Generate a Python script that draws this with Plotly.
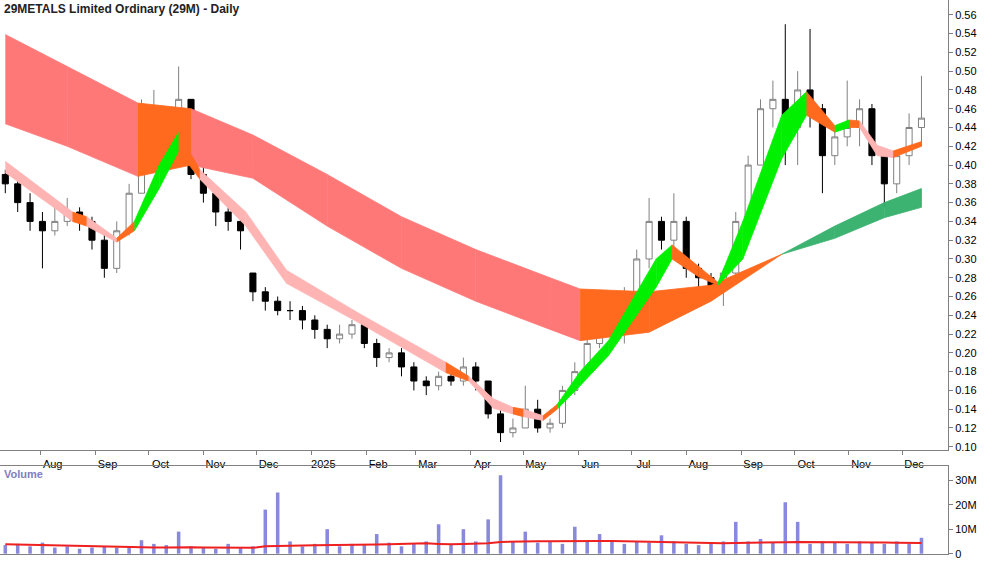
import plotly.graph_objects as go
import pandas as pd

# weekly candles (Fridays, Jul 2024 - Dec 2025)
weeks = pd.date_range("2024-07-12", periods=75, freq="7D")
opens = [0.39, 0.38, 0.36, 0.34, 0.33, 0.34, 0.35, 0.34, 0.32, 0.29,
         0.33, 0.37, 0.44, 0.44, 0.43, 0.47, 0.39, 0.37, 0.35, 0.34,
         0.285, 0.265, 0.255, 0.245, 0.245, 0.235, 0.225, 0.215, 0.22, 0.23,
         0.21, 0.195, 0.20, 0.185, 0.17, 0.165, 0.175, 0.17, 0.185, 0.17,
         0.135, 0.115, 0.12, 0.14, 0.12, 0.125, 0.16, 0.18, 0.21, 0.235,
         0.22, 0.25, 0.30, 0.34, 0.32, 0.34, 0.29, 0.28, 0.27, 0.285,
         0.34, 0.40, 0.46, 0.47, 0.44, 0.48, 0.46, 0.41, 0.43, 0.44,
         0.46, 0.41, 0.38, 0.41, 0.44]
highs = [0.395, 0.385, 0.37, 0.35, 0.36, 0.365, 0.355, 0.345, 0.33, 0.34,
         0.38, 0.47, 0.48, 0.455, 0.505, 0.47, 0.40, 0.37, 0.355, 0.345,
         0.285, 0.27, 0.26, 0.255, 0.25, 0.24, 0.23, 0.23, 0.235, 0.235,
         0.215, 0.205, 0.205, 0.19, 0.175, 0.18, 0.18, 0.195, 0.19, 0.17,
         0.14, 0.13, 0.165, 0.15, 0.13, 0.165, 0.19, 0.22, 0.245, 0.24,
         0.27, 0.31, 0.365, 0.345, 0.37, 0.345, 0.295, 0.285, 0.29, 0.35,
         0.41, 0.47, 0.49, 0.55, 0.50, 0.545, 0.465, 0.44, 0.49, 0.47,
         0.465, 0.415, 0.415, 0.455, 0.495]
lows = [0.37, 0.35, 0.33, 0.29, 0.325, 0.335, 0.33, 0.31, 0.28, 0.285,
        0.325, 0.37, 0.42, 0.415, 0.42, 0.385, 0.36, 0.335, 0.33, 0.31,
        0.255, 0.245, 0.24, 0.235, 0.225, 0.215, 0.205, 0.21, 0.215, 0.205,
        0.185, 0.19, 0.175, 0.16, 0.155, 0.16, 0.165, 0.165, 0.16, 0.13,
        0.105, 0.11, 0.12, 0.115, 0.115, 0.12, 0.155, 0.175, 0.205, 0.21,
        0.21, 0.24, 0.29, 0.31, 0.31, 0.28, 0.27, 0.26, 0.25, 0.28,
        0.33, 0.40, 0.44, 0.40, 0.40, 0.44, 0.37, 0.40, 0.42, 0.42,
        0.40, 0.355, 0.37, 0.40, 0.42]
closes = [0.38, 0.36, 0.34, 0.33, 0.34, 0.35, 0.34, 0.32, 0.29, 0.33,
          0.37, 0.44, 0.44, 0.43, 0.47, 0.39, 0.37, 0.35, 0.34, 0.33,
          0.265, 0.255, 0.245, 0.245, 0.235, 0.225, 0.215, 0.22, 0.23, 0.21,
          0.195, 0.20, 0.185, 0.17, 0.165, 0.175, 0.17, 0.185, 0.17, 0.135,
          0.115, 0.12, 0.14, 0.12, 0.125, 0.16, 0.18, 0.21, 0.235, 0.22,
          0.25, 0.30, 0.34, 0.32, 0.34, 0.29, 0.28, 0.27, 0.285, 0.34,
          0.40, 0.46, 0.47, 0.44, 0.48, 0.46, 0.41, 0.43, 0.44, 0.46,
          0.41, 0.38, 0.41, 0.44, 0.45]

volume = [3.5, 4.0, 3.0, 4.5, 2.5, 3.0, 2.0, 2.5, 3.0, 2.5,
          3.0, 5.5, 4.0, 3.5, 9.0, 3.0, 2.5, 2.0, 4.0, 2.5,
          3.0, 18.0, 25.0, 5.0, 3.0, 4.0, 10.0, 3.0, 4.0, 3.5,
          8.0, 4.5, 3.0, 4.0, 5.0, 12.0, 4.0, 10.0, 5.0, 14.0,
          32.0, 5.0, 9.0, 4.5, 5.0, 4.0, 11.0, 5.0, 8.0, 5.0,
          4.0, 5.0, 4.5, 7.5, 5.0, 4.0, 3.5, 4.0, 5.0, 13.0,
          5.0, 6.0, 4.5, 21.0, 13.0, 4.0, 5.0, 4.5, 4.0, 5.0,
          4.5, 4.0, 5.0, 4.0, 6.5]
volume_ma = [3.8, 3.7, 3.6, 3.5, 3.4, 3.2, 3.0, 2.8, 2.7, 2.6,
             2.5, 2.5, 2.5, 2.5, 2.6, 2.6, 2.5, 2.5, 2.4, 2.4,
             2.4, 3.0, 3.2, 3.3, 3.3, 3.4, 3.4, 3.5, 3.5, 3.6,
             3.7, 3.8, 4.0, 4.2, 4.3, 4.0, 3.8, 4.0, 4.1, 4.3,
             4.8, 5.0, 5.0, 5.1, 5.1, 5.2, 5.3, 5.3, 5.2, 5.2,
             5.1, 5.0, 5.0, 4.8, 4.6, 4.5, 4.4, 4.3, 4.3, 4.4,
             4.4, 4.5, 4.6, 4.7, 4.8, 4.8, 4.9, 4.9, 4.8, 4.8,
             4.7, 4.6, 4.5, 4.5, 4.4]

# long-term ribbon
long_dates = ["2024-07-12", "2024-08-16", "2024-09-25", "2024-10-25", "2024-11-29",
              "2025-01-10", "2025-02-21", "2025-04-04", "2025-05-16", "2025-06-02",
              "2025-07-11", "2025-08-15", "2025-09-24", "2025-10-24", "2025-11-21",
              "2025-12-12"]
long_up = [0.539, 0.505, 0.466, 0.46, 0.432, 0.39, 0.345, 0.31, 0.28, 0.268,
           0.265, 0.272, 0.305, 0.335, 0.36, 0.375]
long_lo = [0.444, 0.42, 0.388, 0.40, 0.386, 0.335, 0.29, 0.255, 0.225, 0.213,
           0.222, 0.255, 0.305, 0.322, 0.344, 0.355]
long_state = ["r", "r", "o", "r", "r", "r", "r", "r", "r", "o", "o", "o", "g", "g", "g"]

# short-term ribbon
short_dates = ["2024-07-12", "2024-08-12", "2024-08-19", "2024-08-27", "2024-09-13",
               "2024-09-23", "2024-10-07", "2024-10-18", "2024-10-30", "2024-11-25",
               "2024-12-18", "2025-01-28", "2025-03-18", "2025-03-31", "2025-04-14",
               "2025-04-25", "2025-05-01", "2025-05-12", "2025-05-20", "2025-06-02",
               "2025-06-18", "2025-07-15", "2025-07-24", "2025-08-08", "2025-08-19",
               "2025-09-02", "2025-09-24", "2025-10-08", "2025-10-24", "2025-11-01",
               "2025-11-07", "2025-11-17", "2025-11-26", "2025-12-12"]
short_up = [0.404, 0.36, 0.35, 0.345, 0.322, 0.34, 0.40, 0.435, 0.395, 0.35,
            0.288, 0.242, 0.19, 0.175, 0.151, 0.142, 0.14, 0.133, 0.145, 0.18,
            0.213, 0.30, 0.315, 0.292, 0.275, 0.34, 0.453, 0.478, 0.442, 0.448,
            0.447, 0.421, 0.415, 0.425]
short_lo = [0.392, 0.35, 0.34, 0.335, 0.318, 0.33, 0.375, 0.415, 0.385, 0.335,
            0.274, 0.232, 0.179, 0.17, 0.141, 0.135, 0.132, 0.128, 0.14, 0.165,
            0.197, 0.27, 0.30, 0.281, 0.272, 0.30, 0.407, 0.453, 0.435, 0.44,
            0.44, 0.41, 0.408, 0.42]
short_state = ["r", "r", "o", "r", "o", "g", "g", "o", "r", "r", "r", "r", "o", "r",
               "r", "o", "r", "o", "g", "g", "g", "g", "o", "o", "g", "g", "g", "o",
               "g", "o", "r", "r", "o"]

long_colors = {"r": "#ff7878", "o": "#ff6a1f", "g": "#3cb371"}
short_colors = {"r": "#ffb4b4", "o": "#ff6a1f", "g": "#00f000"}

month_ticks = pd.date_range("2024-08-01", "2025-12-01", freq="MS")
month_text = ["2025" if d.month == 1 else d.strftime("%b") for d in month_ticks]

fig = go.Figure()


def add_ribbon(dates, up, lo, state, colors):
    for i in range(len(state)):
        xs = [dates[i], dates[i + 1], dates[i + 1], dates[i]]
        ys = [up[i], up[i + 1], lo[i + 1], lo[i]]
        fig.add_trace(go.Scatter(x=xs, y=ys, fill="toself", mode="lines",
                                 line=dict(width=0.8, color=colors[state[i]]),
                                 fillcolor=colors[state[i]], hoverinfo="skip",
                                 showlegend=False))


add_ribbon(long_dates, long_up, long_lo, long_state, long_colors)
add_ribbon(short_dates, short_up, short_lo, short_state, short_colors)

fig.add_trace(go.Candlestick(
    x=weeks, open=opens, high=highs, low=lows, close=closes,
    increasing=dict(line=dict(color="#808080", width=1), fillcolor="white"),
    decreasing=dict(line=dict(color="black", width=1), fillcolor="black"),
    whiskerwidth=0, showlegend=False))

fig.add_trace(go.Bar(x=weeks, y=volume, xaxis="x2", yaxis="y2",
                     marker=dict(color="#8888dd", line=dict(width=0)),
                     width=2 * 86400000, showlegend=False))
fig.add_trace(go.Scatter(x=weeks, y=volume_ma, xaxis="x2", yaxis="y2", mode="lines",
                         line=dict(color="#ee2020", width=2), showlegend=False))

tick_font = dict(family="Liberation Sans, Arial", size=11, color="black")
xrange = ["2024-07-09", "2025-12-27"]
fig.update_layout(
    width=1000, height=562,
    margin=dict(l=0, r=52, t=0, b=8),
    paper_bgcolor="white", plot_bgcolor="white",
    font=tick_font,
    xaxis=dict(domain=[0, 1], range=xrange, rangeslider=dict(visible=False),
               tickvals=month_ticks, ticktext=month_text, ticks="outside",
               ticklen=4, tickcolor="#808080", ticklabelshift=12,
               tickfont=tick_font, automargin=False,
               showline=True, linecolor="#808080", showgrid=False, zeroline=False,
               anchor="y"),
    yaxis=dict(domain=[0.188, 1], range=[0.0967, 0.5758], side="right",
               tickvals=[round(0.10 + 0.02 * i, 2) for i in range(24)],
               tickformat=".2f", ticks="outside", ticklen=4, tickcolor="#808080",
               showline=True, linecolor="#808080", showgrid=False, zeroline=False,
               tickfont=tick_font, automargin=False),
    xaxis2=dict(domain=[0, 1], range=xrange, matches="x", showticklabels=False,
                showline=True, linecolor="#808080", mirror=True, showgrid=False,
                zeroline=False, anchor="y2", automargin=False),
    yaxis2=dict(domain=[0, 0.158], range=[-0.13, 35.6], side="right",
                tickvals=[0, 10, 20, 30], ticktext=["0", "10M", "20M", "30M"],
                ticks="outside", ticklen=4, tickcolor="#808080",
                showline=True, linecolor="#808080", showgrid=False, zeroline=False,
                anchor="x2", tickfont=tick_font, automargin=False),
    annotations=[
        dict(text="<b>29METALS Limited Ordinary (29M) - Daily</b>", xref="paper",
             yref="paper", x=0.002, y=1.0, xanchor="left", yanchor="top",
             showarrow=False, font=dict(family="Liberation Sans, Arial", size=12,
                                        color="#222222")),
        dict(text="<b>Volume</b>", xref="paper", yref="paper", x=0.002, y=0.158,
             xanchor="left", yanchor="top", showarrow=False,
             font=dict(family="Liberation Sans, Arial", size=11, color="#8080c0")),
    ],
)

fig.write_html("out.html", config={"displayModeBar": False},
               post_script="document.body.style.margin='0';")
